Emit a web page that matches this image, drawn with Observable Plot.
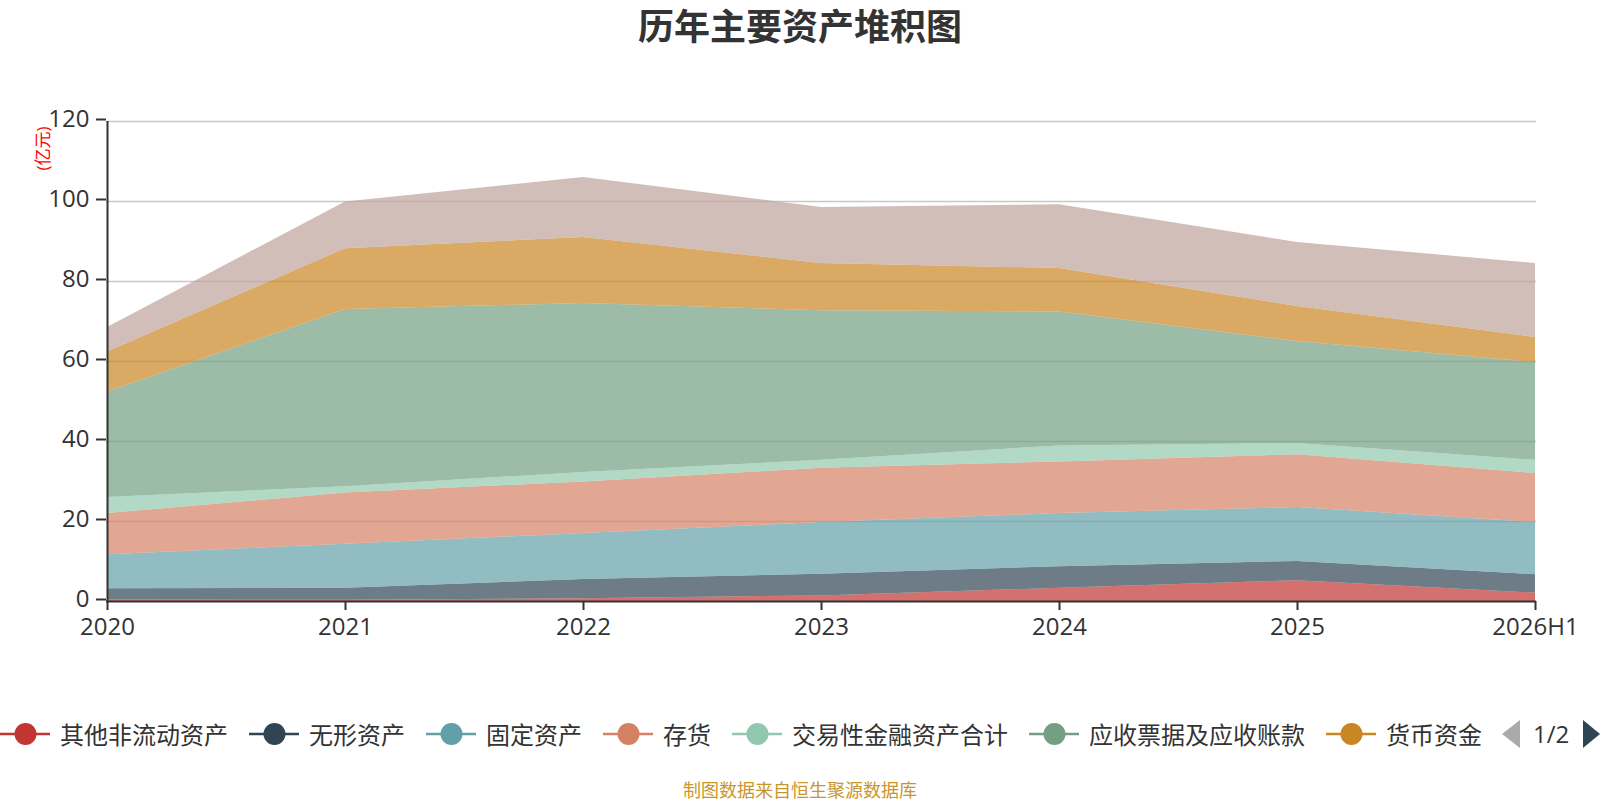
<!DOCTYPE html>
<html>
<head>
<meta charset="utf-8">
<script src="https://cdn.jsdelivr.net/npm/d3@7"></script>
<script src="https://cdn.jsdelivr.net/npm/@observablehq/plot@0.6"></script>
<style>
  html, body { margin: 0; padding: 0; background: #fff; }
  body { width: 1600px; height: 800px; position: relative; overflow: hidden; font-family: "Open Sans", "Noto Sans CJK SC", sans-serif; }
  #title { position: absolute; left: 0; top: 0; width: 1600px; text-align: center; font-family: "Noto Sans CJK SC", sans-serif; font-size: 36px; font-weight: bold; color: #333; line-height: 48px; }
  #chart { position: absolute; left: 0; top: 60px; }
  #legend { position: absolute; left: 0; top: 720px; height: 28px; display: flex; align-items: center; white-space: nowrap; }
  .item { display: flex; align-items: center; margin-right: 21px; }
  .item svg { display: block; }
  .item span { font-family: "Noto Sans CJK SC", sans-serif; font-size: 24px; color: #333; margin-left: 10px; line-height: 28px; }
  #pager { display: flex; align-items: center; margin-left: -1px; }
  #pager svg { display: block; }
  #pager span { font-family: "Open Sans", sans-serif; font-size: 24px; color: #333; margin: 0 14px 0 13px; line-height: 28px; }
  #caption { position: absolute; left: 0; top: 777px; width: 1600px; text-align: center; font-family: "Noto Sans CJK SC", sans-serif; font-size: 18px; color: #c9962d; line-height: 24px; }
</style>
</head>
<body>
<div id="title">历年主要资产堆积图</div>
<div id="chart"></div>
<div id="legend"></div>
<div id="caption">制图数据来自恒生聚源数据库</div>
<script>
// categories
const years = ["2020", "2021", "2022", "2023", "2024", "2025", "2026H1"];
// series names (bottom to top)
const seriesNames = ["其他非流动资产", "无形资产", "固定资产", "存货", "交易性金融资产合计", "应收票据及应收账款", "货币资金", "其他资产"];
const seriesColors = ["#c23531", "#2f4554", "#61a0a8", "#d48265", "#91c7ae", "#749f83", "#ca8622", "#bda29a"];
// values (亿元)
const otherNonCurrent = [0.4, 0.3, 0.7, 1.4, 3.3, 5.2, 2.1];
const intangible      = [2.8, 3.0, 4.8, 5.4, 5.4, 4.8, 4.6];
const fixedAssets     = [8.5, 11.0, 11.5, 12.95, 13.3, 13.5, 13.05];
const inventory       = [10.3, 12.8, 12.9, 13.55, 12.9, 13.2, 12.25];
const tradingFin      = [4.0, 1.6, 2.35, 2.0, 4.0, 2.8, 3.3];
const receivables     = [26.4, 44.3, 42.25, 37.4, 33.5, 25.5, 24.45];
const cash            = [10.0, 15.2, 16.5, 11.8, 10.85, 8.75, 6.25];
const otherAssets     = [6.1, 11.7, 15.0, 14.0, 15.95, 16.0, 18.5];
const yTicks = [0, 20, 40, 60, 80, 100, 120];
const legendShown = 7;
const pageLabel = "1/2";

const seriesValues = [otherNonCurrent, intangible, fixedAssets, inventory, tradingFin, receivables, cash, otherAssets];
const data = [];
seriesNames.forEach((name, i) => {
  years.forEach((y, j) => data.push({year: y, series: name, value: seriesValues[i][j]}));
});

const chart = Plot.plot({
  width: 1600,
  height: 620,
  marginLeft: 106,
  marginRight: 64,
  marginTop: 61,
  marginBottom: 79,
  style: {fontFamily: "'Open Sans', 'Noto Sans CJK SC', sans-serif", background: "transparent", overflow: "visible"},
  x: {type: "point", domain: years, padding: 0},
  y: {domain: [0, 120]},
  color: {domain: seriesNames, range: seriesColors},
  marks: [
    Plot.ruleY(yTicks.filter(d => d > 0), {stroke: "#c8c8c8", strokeWidth: 1.5}),
    Plot.areaY(data, {x: "year", y: "value", fill: "series", fillOpacity: 0.7, curve: "linear"}),
    Plot.ruleX([years[0]], {y1: 0, y2: 120, stroke: "#333", strokeWidth: 2}),
    Plot.ruleY([0], {stroke: "#333", strokeWidth: 2}),
    Plot.axisY({ticks: yTicks, tickSize: 10, tickPadding: 7, fontSize: 24, dy: -2, color: "#333", stroke: "#333", strokeWidth: 2, label: null}),
    Plot.axisX({tickSize: 9, tickPadding: 7, fontSize: 24, color: "#333", stroke: "#333", strokeWidth: 2, label: null}),
    Plot.text(["(亿元)"], {frameAnchor: "top-left", dx: -63, dy: 27, rotate: -90, fill: "red", fontSize: 17, textAnchor: "middle", lineAnchor: "middle"})
  ]
});
document.getElementById("chart").appendChild(chart);

// legend
const legend = document.getElementById("legend");
seriesNames.slice(0, legendShown).forEach((name, i) => {
  const it = document.createElement("div");
  it.className = "item";
  it.innerHTML = `<svg width="50" height="28"><line x1="0" y1="14" x2="50" y2="14" stroke="${seriesColors[i]}" stroke-width="2.5"/><circle cx="25.5" cy="14" r="11" fill="${seriesColors[i]}"/></svg><span>${name}</span>`;
  legend.appendChild(it);
});
const pager = document.createElement("div");
pager.id = "pager";
pager.innerHTML = `<svg width="18" height="28"><path d="M18,0 L0,14 L18,28 Z" fill="#aaa"/></svg><span>${pageLabel}</span><svg width="17" height="28"><path d="M0,0 L17,14 L0,28 Z" fill="#2f4554"/></svg>`;
legend.appendChild(pager);
</script>
</body>
</html>
